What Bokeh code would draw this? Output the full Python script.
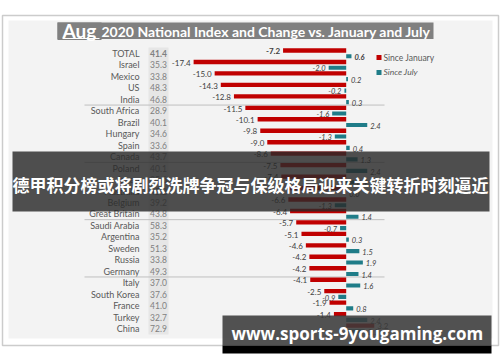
from bokeh.plotting import figure
from bokeh.models import Range1d
from bokeh.core.properties import value
from bokeh.embed import file_html
from bokeh.resources import INLINE

# ---------------- data ----------------
countries = ["TOTAL", "Israel", "Mexico", "US", "India",
             "South Africa", "Brazil", "Hungary", "Spain", "Canada",
             "Poland", "Japan", "Australia", "Belgium", "Great Britain",
             "Saudi Arabia", "Argentina", "Sweden", "Russia", "Germany",
             "Italy", "South Korea", "France", "Turkey", "China"]
index_vals = [41.4, 35.3, 33.8, 48.3, 46.8,
              28.9, 40.1, 34.6, 33.6, 43.7,
              40.1, 35.6, 45.2, 39.2, 43.8,
              58.3, 35.2, 51.3, 33.8, 49.3,
              37.0, 37.6, 41.0, 32.7, 72.9]
since_jan = [-7.2, -17.4, -15.0, -14.3, -12.8,
             -11.5, -10.1, -9.8, -9.0, -8.6,
             -7.5, -7.4, -6.9, -6.6, -6.4,
             -5.7, -5.1, -4.6, -4.2, -4.2,
             -4.1, -2.5, -1.9, -1.4, 3.2]
since_jul = [0.6, -2.0, 0.2, -0.2, 0.3,
             -1.6, 2.4, -1.3, 0.4, 1.3,
             2.4, 0.9, 0.0, -1.3, 1.4,
             -0.7, 0.3, 1.5, 1.9, 1.4,
             1.6, -0.9, 0.8, 2.4, 2.1]
group_breaks = [4, 9, 14, 19]
legend_labels = ["Since January", "Since July"]
title_month = "Aug"
title_rest = "2020 National Index and Change vs. January and July"
banner_text = "德甲积分榜或将剧烈洗牌争冠与保级格局迎来关键转折时刻逼近"
watermark_text = "www.sports-9yougaming.com"

RED = "#c00000"
TEAL = "#1f7c88"

# ---------------- layout helpers ----------------
W, H = 500, 362
ZERO_PX, PX_PER = 345.7, 8.77
ROW0, ROW_H = 53.0, 11.46


def X(px):
    return (px - ZERO_PX) / PX_PER


def Y(py):
    return (py - ROW0) / ROW_H


p = figure(width=W, height=H, x_range=Range1d(X(0), X(W)), y_range=Range1d(Y(H), Y(0)),
           output_backend="svg", toolbar_location=None, min_border=0,
           x_axis_location=None, y_axis_location=None)
p.grid.visible = False
p.outline_line_color = None
p.background_fill_color = "white"
p.border_fill_color = "white"

# frame and panel
p.quad(left=X(2), right=X(498), top=Y(15), bottom=Y(345), fill_color="white",
       line_color="#cccccc", line_width=1.5)
p.quad(left=X(8), right=X(492), top=Y(20), bottom=Y(338), fill_color="#f3f3f3", line_color=None)

# title
p.quad(left=X(57), right=X(433), top=Y(22), bottom=Y(38.5), fill_color="#808080", line_color=None)
p.quad(left=X(57), right=X(101), top=Y(22), bottom=Y(39.5), fill_color="#808080", line_color=None)
p.text(x=[X(62)], y=[Y(30)], text=[title_month], text_align="left", text_baseline="middle",
       text_font=value("Lato"), text_font_style="bold", text_font_size="19px", text_color="white")
p.segment(x0=[X(62)], y0=[Y(38)], x1=[X(99)], y1=[Y(38)], line_color="white", line_width=1.2)
p.text(x=[X(101)], y=[Y(30.5)], text=[title_rest], text_align="left", text_baseline="middle",
       text_font=value("Lato"), text_font_style="bold", text_font_size="14px", text_color="white")

# index column band
p.quad(left=X(148), right=X(168), top=Y(47), bottom=Y(334), fill_color="#e6e6e6", line_color=None)

rows = list(range(len(countries)))

# country names
p.text(x=[X(139)] * len(rows), y=rows, text=countries, text_align="right", text_baseline="middle",
       text_font=value("Lato"), text_font_size="9px", text_color="#595959")

# index values
idx_txt = ["%.1f" % v for v in index_vals]
p.text(x=[X(158)] * (len(rows) - 1), y=rows[1:], text=idx_txt[1:], text_align="center",
       text_baseline="middle", text_font=value("Lato"), text_font_size="8.5px", text_color="#808080")
p.text(x=[X(158)], y=[0], text=[idx_txt[0]], text_align="center", text_baseline="middle",
       text_font=value("Lato"), text_font_style="bold", text_font_size="8.5px", text_color="#808080")

# group separators
p.segment(x0=[X(84)] * len(group_breaks), x1=[X(384)] * len(group_breaks),
          y0=[b + 0.5 for b in group_breaks], y1=[b + 0.5 for b in group_breaks],
          line_color="#bfbfbf", line_width=1)

# bars
p.hbar(y=[r - 0.26 for r in rows], left=[min(v, 0) for v in since_jan], right=[max(v, 0) for v in since_jan],
       height=0.38, fill_color=RED, line_color=None)
p.hbar(y=[r + 0.24 for r in rows], left=[min(v, 0) for v in since_jul], right=[max(v, 0) for v in since_jul],
       height=0.36, fill_color=TEAL, line_color=None)


def labels(vals, dy, style_rest, style_total, size):
    for sign in ("neg", "pos"):
        xs, ys, ts, sty = [], [], [], []
        for r, v in zip(rows, vals):
            if (v < 0) == (sign == "neg"):
                xs.append(v)
                ys.append(r + dy)
                ts.append("%.1f" % v)
                sty.append(style_total if r == 0 else style_rest)
        for st in sorted(set(sty)):
            sel = [i for i in range(len(xs)) if sty[i] == st]
            if not sel:
                continue
            p.text(x=[xs[i] for i in sel], y=[ys[i] for i in sel], text=[ts[i] for i in sel],
                   text_align="right" if sign == "neg" else "left",
                   x_offset=-3 if sign == "neg" else 3,
                   text_baseline="middle", text_font=value("Lato"), text_font_style=st,
                   text_font_size=size, text_color="#404040")


labels(since_jan, -0.2, "normal", "bold", "8px")
labels(since_jul, 0.3, "italic", "bold italic", "7.5px")

# legend
p.scatter(x=[X(378.5)], y=[Y(57)], marker="square", size=5, fill_color=RED, line_color=None)
p.scatter(x=[X(378.5)], y=[Y(72)], marker="square", size=5, fill_color=TEAL, line_color=None)
p.text(x=[X(383)], y=[Y(57)], text=[legend_labels[0]], text_align="left", text_baseline="middle",
       text_font=value("Lato"), text_font_size="8.5px", text_color="#595959")
p.text(x=[X(383)], y=[Y(71.5)], text=[legend_labels[1]], text_align="left", text_baseline="middle",
       text_font=value("Lato"), text_font_style="italic", text_font_size="8.5px", text_color="#595959")

# overlay banner
p.quad(left=X(12), right=X(489), top=Y(151), bottom=Y(211), fill_color="#2a2a2a", fill_alpha=0.82,
       line_color=None)
p.text(x=[X(250)], y=[Y(184)], text=[banner_text], text_align="center", text_baseline="middle",
       text_font=value("Noto Sans CJK SC"), text_font_style="bold", text_font_size="17px",
       text_color="white")

# watermark
p.quad(left=X(222), right=X(491), top=Y(315), bottom=Y(345), fill_color="#3a3a3a", fill_alpha=0.88,
       line_color=None)
p.quad(left=X(222), right=X(491), top=Y(345), bottom=Y(353), fill_color="black", line_color=None)
p.text(x=[X(231)], y=[Y(333)], text=[watermark_text], text_align="left", text_baseline="middle",
       text_font=value("Open Sans"), text_font_style="bold", text_font_size="17px", text_color="white")

with open("out.html", "w", encoding="utf-8") as f:
    f.write(file_html(p, INLINE, "chart"))
